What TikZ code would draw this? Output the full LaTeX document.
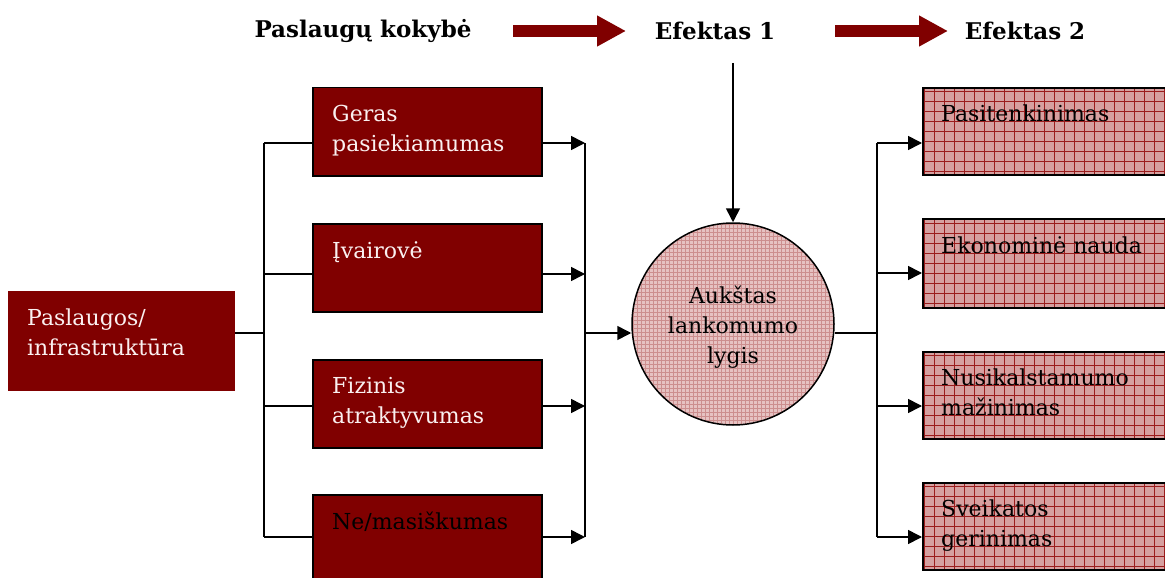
\documentclass[tikz,border=0pt]{standalone}
\usepackage{fontspec}
\setmainfont{DejaVu Serif}
\usetikzlibrary{arrows.meta}
\definecolor{dred}{HTML}{800000}
\definecolor{pinkA}{HTML}{D6A0A0}
\definecolor{gridA}{HTML}{9B1C1C}
\definecolor{pinkB}{HTML}{E6C2C2}
\definecolor{gridB}{HTML}{CC8E8E}
\definecolor{ltext}{HTML}{FAF0F0}
\begin{document}
\begin{tikzpicture}[x=1pt,y=-1pt,
  conn/.style={line width=1.6pt},
  arr/.style={conn,-{Triangle[length=14pt,width=14pt]}},
  bigarr/.style={draw=dred,line width=12pt,-{Triangle[length=29pt,width=29pt]}},
  title/.style={font=\fontsize{23}{30}\bfseries\selectfont,inner sep=0pt},
  darkbox/.style={fill=dred,draw=black,line width=1.5pt,minimum width=229pt,minimum height=88pt,anchor=north west,inner sep=0pt},
  leftbox/.style={fill=dred,minimum width=227pt,minimum height=100pt,anchor=north west,inner sep=0pt},
  pinkbox/.style={fill=pinkA,draw=black,line width=2pt,minimum width=262pt,minimum height=87pt,anchor=north west,inner sep=0pt,
    path picture={\draw[gridA,line width=0.6pt] (path picture bounding box.south west) grid[step=10pt] (path picture bounding box.north east);}},
  circ/.style={circle,fill=pinkB,draw=black,line width=1.5pt,minimum size=202pt,inner sep=0pt,
    path picture={\draw[gridB,line width=0.5pt] (path picture bounding box.south west) grid[step=4pt] (path picture bounding box.north east);}},
  lbl/.style={anchor=north west,inner sep=0pt,align=left,font=\fontsize{22}{30}\selectfont},
]
\clip (0,0) rectangle (1165,578);
\fill[white] (0,0) rectangle (1165,578);

% titles
\node[title] (t0) at (363,31) {Paslaugų kokybė};
\node[title] (t1) at (715,31) {Efektas 1};
\node[title] (t2) at (1025,31) {Efektas 2};
\coordinate (ba1) at (513,31); \coordinate (ba2) at (626,31);
\coordinate (bb1) at (835,31); \coordinate (bb2) at (948,31);
\draw[bigarr] (ba1) -- (ba2);
\draw[bigarr] (bb1) -- (bb2);

% left box
\node[leftbox] (L) at (8,291) {};
\node[lbl,text=ltext] (Lt) at ([shift={(19,18)}]L.north west) {Paslaugos/\\infrastruktūra};

% middle boxes
\node[darkbox] (m1) at (312,87) {};
\node[darkbox] (m2) at (312,223) {};
\node[darkbox] (m3) at (312,359) {};
\node[darkbox,minimum height=92pt] (m4) at (312,494) {};
\node[lbl,text=ltext] (m1t) at ([shift={(20,18)}]m1.north west) {Geras\\pasiekiamumas};
\node[lbl,text=ltext] (m2t) at ([shift={(20,18)}]m2.north west) {Įvairovė};
\node[lbl,text=ltext] (m3t) at ([shift={(20,18)}]m3.north west) {Fizinis\\atraktyvumas};
\node[lbl,text=black] (m4t) at ([shift={(20,18)}]m4.north west) {Ne/masiškumas};

% circle
\node[circ] (C) at (733,324) {};
\node[inner sep=0pt,align=center,font=\fontsize{22}{30}\selectfont] (Ct) at (733,327) {Aukštas\\lankomumo\\lygis};

% right boxes
\node[pinkbox] (r1) at (922,87) {};
\node[pinkbox,minimum height=89pt] (r2) at (922,218) {};
\node[pinkbox] (r3) at (922,351) {};
\node[pinkbox] (r4) at (922,482) {};
\node[lbl] (r1t) at ([shift={(19,18)}]r1.north west) {Pasitenkinimas};
\node[lbl] (r2t) at ([shift={(19,18)}]r2.north west) {Ekonominė nauda};
\node[lbl] (r3t) at ([shift={(19,18)}]r3.north west) {Nusikalstamumo\\mažinimas};
\node[lbl] (r4t) at ([shift={(19,18)}]r4.north west) {Sveikatos\\gerinimas};

% left bus
\coordinate (jL) at (264,333);
\coordinate (a1) at (264,143); \coordinate (a2) at (264,274);
\coordinate (a3) at (264,406); \coordinate (a4) at (264,537);
\draw[conn] (L.east |- jL) -- (jL);
\draw[conn] (a1) -- (a4);
\draw[conn] (a1) -- (a1 -| m1.west);
\draw[conn] (a2) -- (a2 -| m2.west);
\draw[conn] (a3) -- (a3 -| m3.west);
\draw[conn] (a4) -- (a4 -| m4.west);

% middle bus
\coordinate (b1) at (585,143); \coordinate (b2) at (585,274);
\coordinate (b3) at (585,406); \coordinate (b4) at (585,537);
\coordinate (jM) at (585,333);
\draw[arr] (b1 -| m1.east) -- (b1);
\draw[arr] (b2 -| m2.east) -- (b2);
\draw[arr] (b3 -| m3.east) -- (b3);
\draw[arr] (b4 -| m4.east) -- (b4);
\draw[conn] (b1) -- (b4);
\draw[arr] (jM) -- (C.west |- jM);

% top arrow
\coordinate (e1) at (733,63);
\draw[arr] (e1) -- (C.north);

% right bus
\coordinate (jR) at (877,333);
\coordinate (c1) at (877,143); \coordinate (c2) at (877,273);
\coordinate (c3) at (877,406); \coordinate (c4) at (877,537);
\draw[conn] (C.east |- jR) -- (jR);
\draw[conn] (c1) -- (c4);
\draw[arr] (c1) -- (c1 -| r1.west);
\draw[arr] (c2) -- (c2 -| r2.west);
\draw[arr] (c3) -- (c3 -| r3.west);
\draw[arr] (c4) -- (c4 -| r4.west);
\end{tikzpicture}
\end{document}
